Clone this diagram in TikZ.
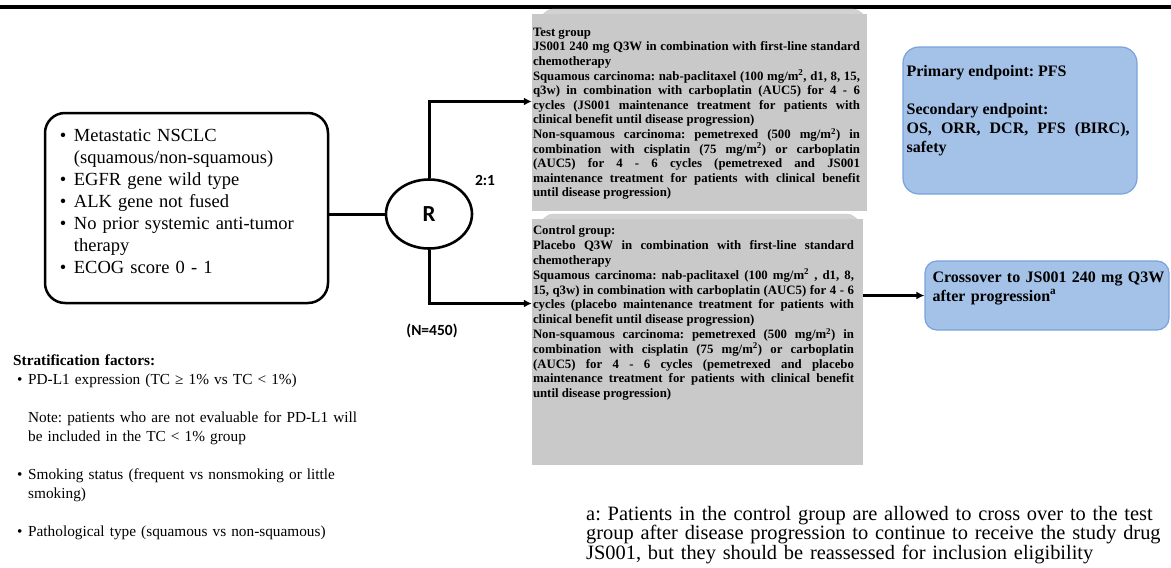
\documentclass[tikz,border=0pt]{standalone}
\usepackage{fontspec}
\setmainfont{Liberation Serif}
\newfontfamily\labelfont{Carlito}
\usepackage{xcolor}
\usetikzlibrary{shapes,arrows.meta,calc}
\setlength{\parindent}{0pt}
\frenchspacing

\definecolor{boxgray}{RGB}{201,201,201}
\definecolor{capgray}{RGB}{210,210,210}
\definecolor{endfill}{RGB}{164,194,232}
\definecolor{enddraw}{RGB}{120,163,218}

\begin{document}
\begin{tikzpicture}[
    x=1pt, y=-1pt,
    >={Latex[length=8pt,width=8pt]},
    conn/.style={line width=3pt},
    inclbox/.style={rectangle, draw, line width=2.5pt, rounded corners=20pt, minimum width=283pt, minimum height=190pt},
    randnode/.style={ellipse, draw, line width=2.6pt, minimum width=86pt, minimum height=69pt, inner sep=0pt, font=\labelfont\bfseries\fontsize{23}{23}\selectfont},
    lbl/.style={inner sep=0pt, font=\labelfont\bfseries\fontsize{15.5}{16}\selectfont},
    listtext/.style={anchor=north west, inner sep=0pt, text width=260pt, align=left, font=\fontsize{18.5}{22}\selectfont},
    grpcap/.style={rectangle, fill=capgray, draw=gray!45, rounded corners=14pt, inner sep=0pt},
    grpbox/.style={rectangle, fill=boxgray, inner sep=0pt},
    grptext/.style={anchor=north west, inner sep=0pt, align=justify, font=\bfseries\fontsize{12.8}{14.6}\selectfont},
    bluebox/.style={rectangle, fill=endfill, draw=enddraw, line width=1.2pt, rounded corners=16pt, inner sep=0pt},
    bluetext/.style={anchor=north west, inner sep=0pt, font=\bfseries\fontsize{16}{19}\selectfont},
    plaintext/.style={anchor=north west, inner sep=0pt, align=left}
]
    \useasboundingbox (0,0) rectangle (1171,568);
    \draw[line width=3.5pt] (0,7) -- (1171,7);

    % Inclusion criteria
    \node[inclbox] (incl) at (186.5,208) {};
    \node[listtext] (incllist) at ([xshift=16pt,yshift=-17pt]incl.north west) {%
        \makebox[14pt][l]{\textbullet}Metastatic NSCLC\newline
        \hspace*{14pt}(squamous/non-squamous)\newline
        \makebox[14pt][l]{\textbullet}EGFR gene wild type\newline
        \makebox[14pt][l]{\textbullet}ALK gene not fused\newline
        \makebox[14pt][l]{\textbullet}No prior systemic anti-tumor\newline
        \hspace*{14pt}therapy\newline
        \makebox[14pt][l]{\textbullet}ECOG score 0 - 1};

    % Randomisation
    \node[randnode] (rand) at (429,214) {R};
    \node[lbl] (ratio) at (485,180) {2:1};
    \node[lbl] (nsize) at (432,331) {(N=450)};

    % Test group
    \node[grpcap, minimum width=326pt, minimum height=70pt] (testcap) at (703,44) {};
    \node[grpbox, minimum width=335pt, minimum height=197pt] (testbox) at (699.5,112.5) {};
    \node[grptext, text width=327pt] (testtxt) at ([xshift=1pt,yshift=-14pt]testbox.north west) {%
        Test group\par
        JS001 240 mg Q3W in combination with first-line standard\linebreak chemotherapy\par
        Squamous carcinoma: nab-paclitaxel (100 mg/m\textsuperscript{2}, d1, 8, 15,\linebreak
        q3w) in combination with carboplatin (AUC5) for 4 - 6\linebreak
        cycles (JS001 maintenance treatment for patients with\linebreak
        clinical benefit until disease progression)\par
        Non-squamous carcinoma: pemetrexed (500 mg/m\textsuperscript{2}) in\linebreak
        combination with cisplatin (75 mg/m\textsuperscript{2}) or carboplatin\linebreak
        (AUC5) for 4 - 6 cycles (pemetrexed and JS001\linebreak
        maintenance treatment for patients with clinical benefit\linebreak
        until disease progression)};

    % Control group
    \node[grpcap, minimum width=320pt, minimum height=66pt] (ctrlcap) at (700,247) {};
    \node[grpbox, minimum width=331pt, minimum height=246pt] (ctrlbox) at (697.5,342) {};
    \node[grptext, text width=321pt, font=\bfseries\fontsize{12.8}{14.8}\selectfont] (ctrltxt) at ([xshift=1pt,yshift=-7pt]ctrlbox.north west) {%
        Control group:\par
        Placebo Q3W in combination with first-line standard\linebreak chemotherapy\par
        Squamous carcinoma: nab-paclitaxel (100 mg/m\textsuperscript{2} , d1, 8,\linebreak
        15, q3w) in combination with carboplatin (AUC5) for 4 - 6\linebreak
        cycles (placebo maintenance treatment for patients with\linebreak
        clinical benefit until disease progression)\par
        Non-squamous carcinoma: pemetrexed (500 mg/m\textsuperscript{2}) in\linebreak
        combination with cisplatin (75 mg/m\textsuperscript{2}) or carboplatin\linebreak
        (AUC5) for 4 - 6 cycles (pemetrexed and placebo\linebreak
        maintenance treatment for patients with clinical benefit\linebreak
        until disease progression)};

    % Endpoints
    \node[bluebox, minimum width=234pt, minimum height=147pt] (endbox) at (1020,120.5) {};
    \node[bluetext, text width=223pt, align=justify] (endtxt) at ([xshift=4pt,yshift=-19pt]endbox.north west) {%
        Primary endpoint: PFS\newline
        \mbox{}\newline
        Secondary endpoint:\newline
        OS, ORR, DCR, PFS (BIRC),\linebreak safety};

    % Crossover
    \node[bluebox, rounded corners=12pt, minimum width=244pt, minimum height=69pt] (cross) at (1047,295.5) {};
    \node[bluetext, text width=232pt, align=left] (crosstxt) at ([xshift=8pt,yshift=-11pt]cross.north west) {%
        Crossover to JS001 240 mg Q3W\newline
        after progression\textsuperscript{a}};

    % Stratification factors
    \node[plaintext, text width=420pt, font=\fontsize{15.3}{18.9}\selectfont] (strat) at (13,355) {%
        \textbf{Stratification factors:}\newline
        \hspace*{4pt}\makebox[11pt][l]{\textbullet}PD-L1 expression (TC ≥ 1\% vs TC < 1\%)\newline
        \mbox{}\newline
        \hspace*{15pt}Note: patients who are not evaluable for PD-L1 will\newline
        \hspace*{15pt}be included in the TC < 1\% group\newline
        \mbox{}\newline
        \hspace*{4pt}\makebox[11pt][l]{\textbullet}Smoking status (frequent vs nonsmoking or little\newline
        \hspace*{15pt}smoking)\newline
        \mbox{}\newline
        \hspace*{4pt}\makebox[11pt][l]{\textbullet}Pathological type (squamous vs non-squamous)};

    % Footnote
    \node[plaintext, text width=640pt, font=\fontsize{20.4}{19.5}\selectfont] (fnote) at (586,506) {%
        a: Patients in the control group are allowed to cross over to the test\newline
        group after disease progression to continue to receive the study drug\newline
        JS001, but they should be reassessed for inclusion eligibility};

    % Connectors
    \draw[conn] (incl.east |- rand) -- (rand.west);
    \draw[conn,->] (rand.north) |- ([yshift=11pt]testbox.west);
    \draw[conn,->] (rand.south) |- ([yshift=38.5pt]ctrlbox.west);
    \draw[conn,->] (ctrlbox.east |- cross.west) -- (cross.west);
\end{tikzpicture}
\end{document}
